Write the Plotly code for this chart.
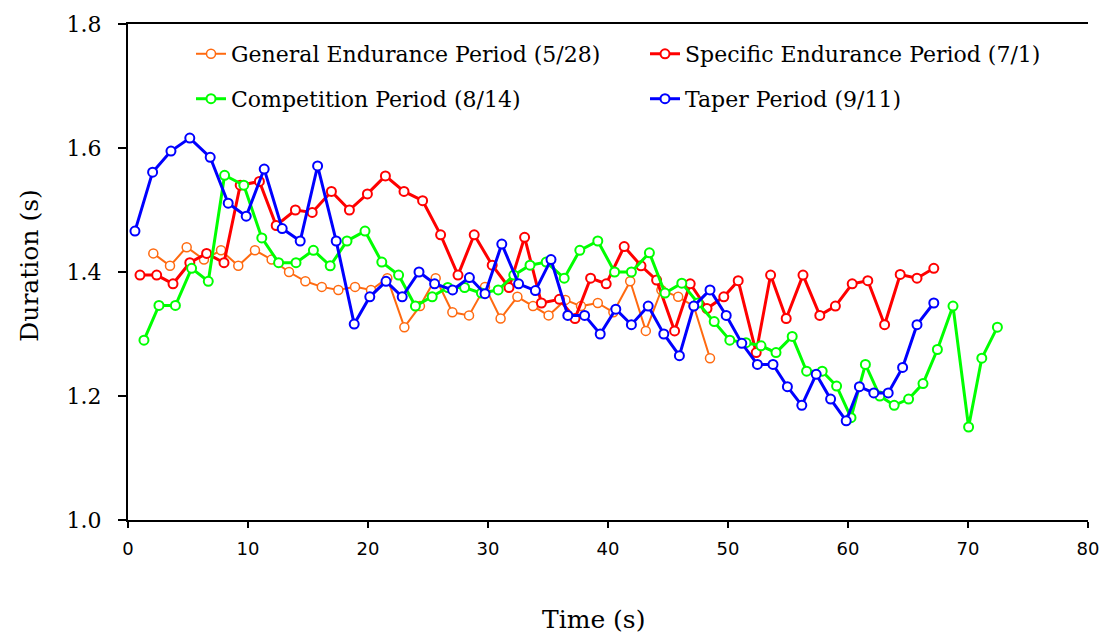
import plotly.graph_objects as go

# ---------------- data ----------------
general_t = [2.11, 3.5, 4.89, 6.33, 7.75, 9.19, 10.58, 11.97, 13.42, 14.78, 16.15, 17.53,
             18.92, 20.25, 21.61, 23.03, 24.33, 25.64, 27.03, 28.42, 29.75, 31.05, 32.45,
             33.75, 35.05, 36.45, 37.75, 39.15, 40.45, 41.85, 43.15, 44.45, 45.85, 47.15, 48.5]
general_v = [1.43, 1.41, 1.44, 1.42, 1.435, 1.41, 1.435, 1.42, 1.40, 1.385, 1.376, 1.371,
             1.376, 1.371, 1.39, 1.311, 1.345, 1.39, 1.335, 1.33, 1.376, 1.325, 1.36,
             1.345, 1.33, 1.355, 1.345, 1.35, 1.335, 1.385, 1.305, 1.371, 1.36, 1.345, 1.261]

specific_t = [1.0, 2.39, 3.75, 5.15, 6.55, 8.0, 9.35, 10.95, 12.35, 13.95, 15.35, 16.95,
              18.45, 19.95, 21.45, 23.0, 24.55, 26.05, 27.5, 28.85, 30.35, 31.75, 33.05,
              34.45, 35.95, 37.25, 38.55, 39.85, 41.35, 42.75, 44.05, 45.55, 46.85, 48.25,
              49.65, 50.85, 52.35, 53.55, 54.85, 56.25, 57.65, 58.95, 60.35, 61.65, 63.05,
              64.35, 65.75, 67.15]
specific_v = [1.395, 1.395, 1.381, 1.415, 1.43, 1.415, 1.54, 1.546, 1.475, 1.5, 1.496, 1.53,
              1.5, 1.526, 1.555, 1.53, 1.515, 1.46, 1.395, 1.46, 1.411, 1.375, 1.456,
              1.35, 1.356, 1.325, 1.39, 1.381, 1.441, 1.41, 1.387, 1.305, 1.381, 1.341,
              1.36, 1.386, 1.27, 1.395, 1.325, 1.395, 1.33, 1.345, 1.381, 1.386, 1.315,
              1.396, 1.39, 1.406]

competition_t = [1.33, 2.58, 3.95, 5.3, 6.69, 8.05, 9.65, 11.15, 12.55, 14.0, 15.45, 16.85,
                 18.25, 19.75, 21.15, 22.55, 23.95, 25.35, 26.65, 28.05, 29.45, 30.85, 32.15,
                 33.5, 34.85, 36.35, 37.65, 39.15, 40.55, 41.95, 43.45, 44.75, 46.15, 47.5,
                 48.85, 50.15, 51.5, 52.75, 54.0, 55.35, 56.55, 57.85, 59.05, 60.25, 61.45,
                 62.65, 63.85, 65.05, 66.25, 67.45, 68.75, 70.05, 71.15, 72.45]
competition_v = [1.29, 1.346, 1.346, 1.406, 1.385, 1.556, 1.54, 1.455, 1.415, 1.415, 1.435, 1.41,
                 1.45, 1.466, 1.416, 1.395, 1.345, 1.36, 1.375, 1.375, 1.366, 1.371, 1.395,
                 1.411, 1.416, 1.39, 1.435, 1.45, 1.40, 1.40, 1.431, 1.366, 1.382, 1.35,
                 1.32, 1.29, 1.286, 1.281, 1.27, 1.296, 1.24, 1.24, 1.216, 1.165, 1.251,
                 1.2, 1.185, 1.195, 1.22, 1.275, 1.345, 1.15, 1.261, 1.311]

taper_t = [0.58, 2.05, 3.58, 5.15, 6.85, 8.35, 9.85, 11.35, 12.85, 14.35, 15.8, 17.35,
           18.85, 20.15, 21.5, 22.85, 24.25, 25.55, 27.05, 28.45, 29.75, 31.15, 32.55,
           33.95, 35.25, 36.65, 38.05, 39.35, 40.65, 41.95, 43.35, 44.65, 45.95, 47.15,
           48.5, 49.85, 51.15, 52.45, 53.75, 54.95, 56.15, 57.35, 58.55, 59.85, 60.95,
           62.15, 63.35, 64.55, 65.75, 67.15]
taper_v = [1.466, 1.561, 1.595, 1.616, 1.585, 1.511, 1.49, 1.566, 1.47, 1.45, 1.571, 1.45,
           1.316, 1.36, 1.385, 1.36, 1.40, 1.381, 1.371, 1.391, 1.365, 1.445, 1.381,
           1.37, 1.42, 1.33, 1.33, 1.30, 1.34, 1.315, 1.345, 1.30, 1.265, 1.345,
           1.371, 1.33, 1.285, 1.251, 1.251, 1.215, 1.185, 1.235, 1.195, 1.16, 1.215,
           1.205, 1.205, 1.246, 1.315, 1.35]

x_ticks = [0, 10, 20, 30, 40, 50, 60, 70, 80]
y_ticks = [1.0, 1.2, 1.4, 1.6, 1.8]
y_ticklabels = ["1.0", "1.2", "1.4", "1.6", "1.8"]

# name, x, y, colour, line width, marker line width, legend id, legend pixel pos
series = [
    ("General Endurance Period (5/28)", general_t, general_v, "#FF6A10", 2, 1.5, "legend", (191, 54)),
    ("Specific Endurance Period (7/1)", specific_t, specific_v, "#FF0000", 3, 2, "legend2", (645, 54)),
    ("Competition Period (8/14)", competition_t, competition_v, "#00FF00", 3, 2, "legend3", (191, 99)),
    ("Taper Period (9/11)", taper_t, taper_v, "#0000FF", 3, 2, "legend4", (645, 99)),
]

SERIF = "DejaVu Serif"
SANS = "DejaVu Sans"

W, H = 1099, 634
L, R, T, B = 128, 11, 24, 113.5
pw, ph = W - L - R, H - T - B

def px_x(px):
    return (px - L) / pw

def px_y(py):
    return (H - B - py) / ph

fig = go.Figure()
legends = {}
for name, t, v, col, lw, mlw, leg, (lx, ly) in series:
    fig.add_trace(go.Scatter(
        x=t, y=v, name=name, mode="lines+markers", legend=leg,
        line=dict(color=col, width=lw),
        marker=dict(symbol="circle", size=9, color="white", line=dict(color=col, width=mlw)),
    ))
    legends[leg] = dict(
        x=px_x(lx), y=px_y(ly), xanchor="left", yanchor="middle",
        orientation="h",
        font=dict(family=SERIF, size=22, color="black"),
        bgcolor="rgba(0,0,0,0)", borderwidth=0, itemwidth=30,
    )

fig.update_layout(
    width=W, height=H,
    margin=dict(l=L, r=R, t=T, b=B, pad=0, autoexpand=False),
    plot_bgcolor="white", paper_bgcolor="white",
    showlegend=True,
    **legends,
    xaxis=dict(
        range=[0, 80], tickvals=x_ticks, ticks="outside", ticklen=6, tickwidth=2,
        tickcolor="black", showline=True, linecolor="black", linewidth=2,
        mirror=True, showgrid=False, zeroline=False, automargin=False,
        tickfont=dict(family=SANS, size=18, color="black"),
        ticklabelstandoff=5, ticklabeloverflow="allow",
    ),
    yaxis=dict(
        range=[1.0, 1.8], tickvals=y_ticks, ticktext=y_ticklabels, ticks="outside",
        ticklen=8, tickwidth=2, tickcolor="black", showline=True, linecolor="black",
        linewidth=2, showgrid=False, zeroline=False, automargin=False,
        tickfont=dict(family=SERIF, size=22, color="black"),
        ticklabelstandoff=12, ticklabeloverflow="allow",
    ),
    annotations=[
        dict(text="Time (s)", xref="paper", yref="paper", x=px_x(593), y=px_y(620),
             xanchor="center", yanchor="middle", showarrow=False,
             font=dict(family=SERIF, size=25, color="black")),
        dict(text="Duration (s)", xref="paper", yref="paper", x=px_x(30), y=px_y(266),
             xanchor="center", yanchor="middle", showarrow=False, textangle=-90,
             font=dict(family=SERIF, size=25, color="black")),
    ],
)

fig.write_html("out.html")
